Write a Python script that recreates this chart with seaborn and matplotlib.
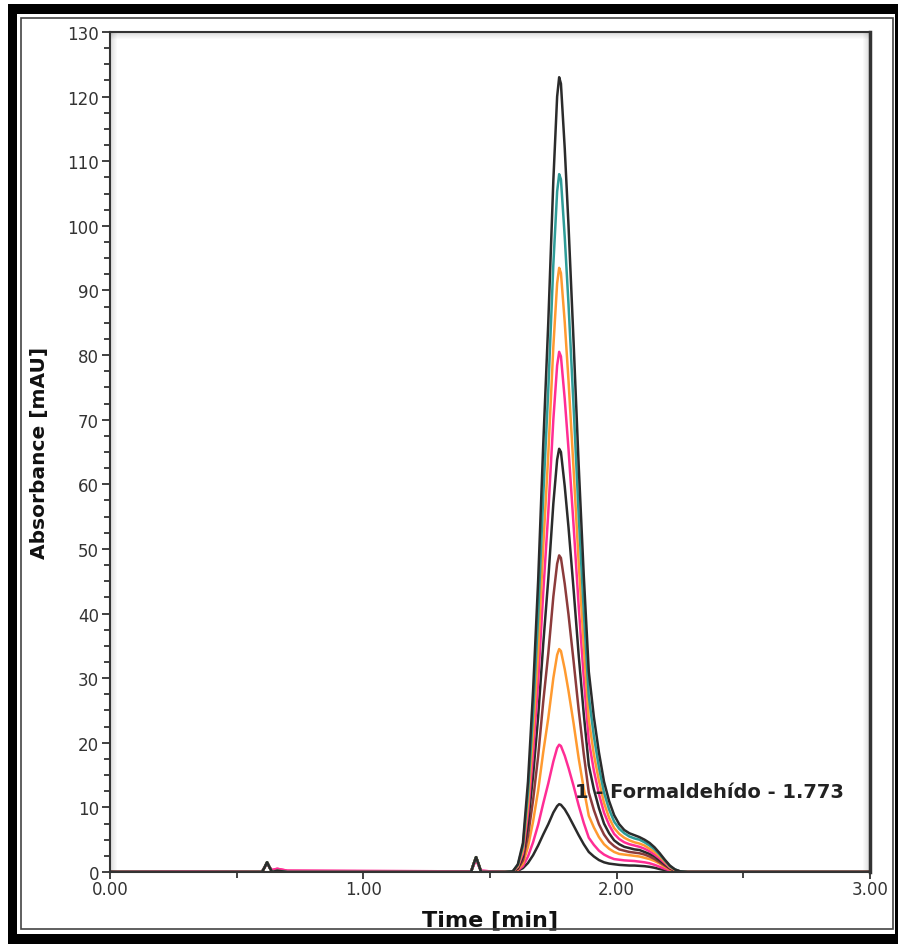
import matplotlib
matplotlib.use("Agg")
import matplotlib.pyplot as plt
from matplotlib.patches import Rectangle
from matplotlib.ticker import MultipleLocator, FormatStrFormatter
import seaborn as sns
import pandas as pd

# baseline before the main peak (same for all runs)
base_t = [0.00, 0.30, 0.60, 0.61, 0.62, 0.63, 0.64, 0.66, 0.70, 1.00,
          1.425, 1.435, 1.445, 1.455, 1.465, 1.50]
base_v = [0, 0, 0, 0.7, 1.5, 0.7, 0, 0.2, 0, 0,
          0, 1.2, 2.3, 1.2, 0, 0]
base_v_pink = [0, 0.1, 0, 0.7, 1.4, 0.7, 0.3, 0.5, 0.2, 0.15,
               0.1, 1.0, 2.0, 1.0, 0.2, 0.1]
end_t = [2.40, 3.00]
end_v = [0, 0]

# main peak (formaldehyde, 1.773 min)
peak_t = [1.56, 1.59, 1.61, 1.63, 1.65, 1.67, 1.69, 1.71, 1.73, 1.75,
          1.765, 1.773, 1.78, 1.795, 1.81, 1.83, 1.85, 1.87, 1.89, 1.91,
          1.93, 1.95, 1.97, 1.99, 2.01, 2.03, 2.05, 2.07, 2.09, 2.11,
          2.13, 2.15, 2.17, 2.19, 2.21, 2.23, 2.25, 2.28]

run1 = [0, 0.1, 1.2, 4.5, 14, 28, 45, 66, 85, 107,
        120, 123, 122, 112, 100, 82, 63, 46, 31, 24,
        18.5, 14, 11, 8.8, 7.4, 6.5, 6.0, 5.7, 5.4, 5.0,
        4.5, 3.8, 2.9, 1.9, 1.0, 0.4, 0.1, 0]
run2 = [0, 0.1, 1.1, 4.0, 12.3, 24.6, 39.5, 58, 74.6, 94,
        105.3, 108, 107.2, 98.3, 87.8, 72, 55.3, 40.4, 27.2, 21,
        16.2, 12.3, 9.7, 7.8, 6.7, 6.0, 5.5, 5.2, 5.0, 4.6,
        4.1, 3.5, 2.7, 1.8, 0.9, 0.4, 0.1, 0]
run3 = [0, 0.1, 0.9, 3.4, 10.6, 21.3, 34.2, 50.2, 64.6, 81.3,
        91.1, 93.5, 92.7, 85.1, 76, 62.3, 47.9, 35, 23.6, 18.2,
        14.1, 10.7, 8.4, 6.8, 5.9, 5.3, 4.9, 4.6, 4.4, 4.1,
        3.6, 3.1, 2.4, 1.6, 0.8, 0.3, 0.1, 0]
run4 = [0, 0.1, 0.8, 2.9, 9.2, 18.3, 29.4, 43.2, 55.6, 70,
        78.4, 80.5, 79.8, 73.2, 65.4, 53.6, 41.2, 30.1, 20.3, 15.7,
        12.1, 9.2, 7.3, 5.9, 5.1, 4.6, 4.3, 4.1, 3.9, 3.6,
        3.2, 2.7, 2.1, 1.4, 0.7, 0.3, 0.1, 0]
run5 = [0, 0.1, 0.6, 2.4, 7.5, 14.9, 24, 35.2, 45.3, 57,
        63.8, 65.5, 65.0, 59.7, 53.3, 43.7, 33.6, 24.5, 16.5, 12.8,
        9.9, 7.5, 6.0, 4.9, 4.3, 3.9, 3.7, 3.5, 3.4, 3.1,
        2.8, 2.4, 1.8, 1.2, 0.6, 0.25, 0.1, 0]
run6 = [0, 0.1, 0.5, 1.8, 5.6, 11.1, 17.9, 26.3, 33.8, 42.6,
        47.7, 49, 48.6, 44.6, 39.8, 32.6, 25.1, 18.3, 12.3, 9.6,
        7.4, 5.8, 4.7, 4.0, 3.5, 3.3, 3.1, 3.0, 2.9, 2.7,
        2.4, 2.0, 1.5, 1.0, 0.5, 0.2, 0.1, 0]
run7 = [0, 0.05, 0.4, 1.3, 3.9, 7.8, 12.6, 18.5, 23.8, 30,
        33.6, 34.5, 34.2, 31.4, 28, 23, 17.6, 12.9, 8.7, 6.9,
        5.4, 4.3, 3.6, 3.1, 2.8, 2.7, 2.6, 2.5, 2.4, 2.2,
        2.0, 1.7, 1.3, 0.8, 0.4, 0.2, 0.05, 0]
run8 = [0, 0.05, 0.3, 0.9, 2.4, 4.6, 7.3, 10.6, 13.7, 17.1,
        19.2, 19.7, 19.5, 18, 16.1, 13.3, 10.3, 7.6, 5.3, 4.2,
        3.3, 2.7, 2.3, 2.0, 1.9, 1.8, 1.75, 1.7, 1.6, 1.5,
        1.35, 1.1, 0.8, 0.5, 0.25, 0.1, 0.05, 0]
run9 = [0, 0.05, 0.2, 0.6, 1.4, 2.6, 4.1, 5.8, 7.4, 9.2,
        10.2, 10.5, 10.4, 9.7, 8.7, 7.2, 5.7, 4.3, 3.1, 2.4,
        1.85, 1.5, 1.3, 1.2, 1.1, 1.05, 1.0, 1.0, 0.95, 0.9,
        0.8, 0.65, 0.45, 0.3, 0.15, 0.05, 0, 0]

runs = [run1, run2, run3, run4, run5, run6, run7, run8, run9]
colors = ["#2b2b2b", "#2e9c98", "#ff9a30", "#ff2d95", "#2b2b2b",
          "#8c3b3b", "#ff9a30", "#ff2d95", "#2b2b2b"]

W, H = 898, 945
sns.set_style("white")
plt.rcParams["font.family"] = ["DejaVu Sans"]
fig = plt.figure(figsize=(W / 100, H / 100), dpi=100)
ax = fig.add_axes([110 / W, 1 - 873 / H, 760 / W, 840 / H])

# smallest first, so the big black run ends up on top
for run, col in reversed(list(zip(runs, colors))):
    bv = base_v_pink if col == "#ff2d95" else base_v
    df = pd.DataFrame({"t": base_t + peak_t + end_t, "v": bv + run + end_v})
    sns.lineplot(data=df, x="t", y="v", color=col, linewidth=1.8, ax=ax,
                 sort=False, estimator=None)

ax.set_xlim(0, 3)
ax.set_ylim(0, 130)
ax.xaxis.set_major_locator(MultipleLocator(1))
ax.xaxis.set_minor_locator(MultipleLocator(0.5))
ax.xaxis.set_major_formatter(FormatStrFormatter("%.2f"))
ax.yaxis.set_major_locator(MultipleLocator(10))
ax.yaxis.set_minor_locator(MultipleLocator(2.5))
ax.tick_params(axis="both", which="both", direction="out", colors="#333333",
               labelsize=12, width=1.3)
ax.tick_params(axis="y", which="major", length=6, pad=2)
ax.tick_params(axis="y", which="minor", length=4)
ax.tick_params(axis="x", which="major", length=5, pad=1)
ax.tick_params(axis="x", which="minor", length=4)
ax.tick_params(left=True, bottom=True, which="both")

for side in ["left", "bottom", "top"]:
    ax.spines[side].set_color("#333333")
    ax.spines[side].set_linewidth(1.5)
ax.spines["right"].set_color("#333333")
ax.spines["right"].set_linewidth(2.5)

ax.set_xlabel("Time [min]", fontsize=16, fontweight="bold", color="#111111",
              labelpad=8)
ax.set_ylabel("Absorbance [mAU]", fontsize=14.5, fontweight="bold",
              color="#111111", labelpad=13)
ax.text(1.836, 12.4, "1 - Formaldehído - 1.773", fontsize=14,
        fontweight="bold", color="#222222", va="center", ha="left")


# window frame around the chart
def px_rect(x0, y0, x1, y1, **kw):
    fig.add_artist(Rectangle((x0 / W, 1 - y1 / H), (x1 - x0) / W, (y1 - y0) / H,
                             transform=fig.transFigure, **kw))


px_rect(8, 5, 898, 15, facecolor="black", edgecolor="none")
px_rect(8, 5, 17, 945, facecolor="black", edgecolor="none")
px_rect(8, 935, 898, 945, facecolor="black", edgecolor="none")
px_rect(895, 5, 898, 945, facecolor="black", edgecolor="none")
px_rect(21, 19, 893, 930, facecolor="none", edgecolor="#444444", linewidth=1.2)

# soft inner shadow of the plot box
for i in range(6):
    a = 0.12 * (1 - i / 6)
    px_rect(111, 34 + i, 869, 35 + i, facecolor="black", alpha=a, edgecolor="none")
    px_rect(111 + i, 34, 112 + i, 872, facecolor="black", alpha=a, edgecolor="none")
    px_rect(868 - i, 34, 869 - i, 872, facecolor="black", alpha=a, edgecolor="none")

fig.savefig("out.png", dpi=100)
